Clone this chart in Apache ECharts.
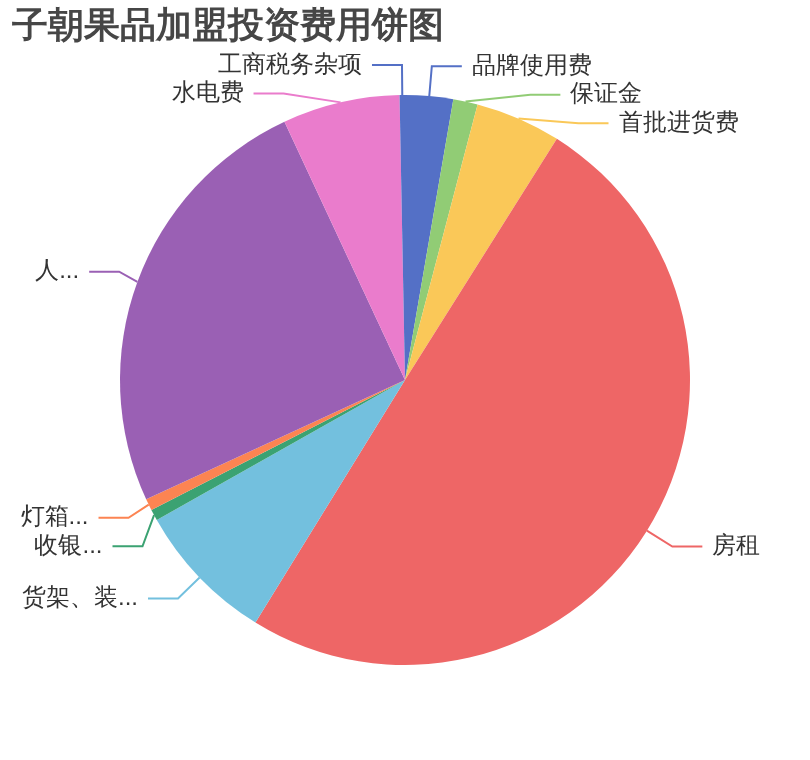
<!DOCTYPE html>
<html>
<head>
<meta charset="utf-8">
<script src="https://cdn.jsdelivr.net/npm/echarts@6/dist/echarts.min.js"></script>
<style>
html,body{margin:0;padding:0;background:#fff;}
#main{width:810px;height:760px;}
</style>
</head>
<body>
<div id="main"></div>
<script>
const titleText = '子朝果品加盟投资费用饼图';
const categories = ['品牌使用费', '保证金', '首批进货费', '房租', '货架、装修费', '收银系统', '灯箱招牌', '人工工资', '水电费', '工商税务杂项'];
const values = [9800, 5000, 17500, 180000, 29000, 2300, 2400, 90000, 24000, 1100];
const palette = ['#5470c6', '#91cc75', '#fac858', '#ee6666', '#73c0de', '#3ba272', '#fc8452', '#9a60b4', '#ea7ccc'];

const chart = echarts.init(document.getElementById('main'));
chart.setOption({
  animation: false,
  color: palette,
  title: {
    text: titleText,
    left: 7,
    top: 4,
    textStyle: { fontSize: 36, fontWeight: 'bold', color: '#464646' }
  },
  series: [{
    type: 'pie',
    radius: '75%',
    center: ['50%', '50%'],
    startAngle: 90,
    clockwise: true,
    avoidLabelOverlap: true,
    itemStyle: { borderWidth: 0 },
    label: {
      show: true,
      position: 'outside',
      fontSize: 24,
      lineHeight: 26.5,
      color: '#333',
      distanceToLabelLine: 10,
      bleedMargin: 16
    },
    labelLine: {
      show: true,
      length: 30,
      length2: 30,
      lineStyle: { width: 2 }
    },
    data: categories.map((c, i) => ({ name: c, value: values[i] }))
  }]
});
</script>
</body>
</html>
